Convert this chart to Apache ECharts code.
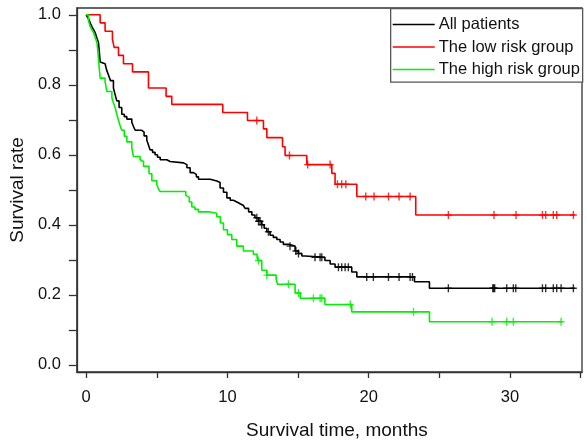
<!DOCTYPE html>
<html>
<head>
<meta charset="utf-8">
<script src="https://cdn.jsdelivr.net/npm/echarts@6/dist/echarts.min.js"></script>
<style>html,body{margin:0;padding:0;background:#fff}#c{width:587px;height:445px}</style>
</head>
<body>
<div id="c"></div>
<script>
// ---- Data ----
const seriesNames = ['All patients', 'The low risk group', 'The high risk group'];
const xTickLabels = [0, 10, 20, 30];
const yTickLabels = [0, 0.2, 0.4, 0.6, 0.8, 1.0];

// All patients: event times (months) and survival after each event
const allTimes = [0,0.10,0.20,0.30,0.40,0.52,0.64,0.75,0.87,0.93,0.99,1.10,1.34,1.45,1.58,1.72,1.93,2.05,2.17,2.33,2.52,2.70,2.88,3.23,3.35,3.47,3.94,4.10,4.29,4.41,4.53,4.70,4.88,5.05,5.24,5.71,5.94,6.89,7.13,7.36,7.59,7.80,7.95,8.78,9.25,9.48,9.72,9.96,10.20,10.42,10.67,10.90,11.13,11.25,11.50,11.73,11.95,12.20,12.43,12.60,12.79,13.02,13.25,13.50,13.73,13.96,14.32,14.79,15.02,15.27,15.50,16.90,17.27,17.62,18.80,19.16,23.24,24.30];
const allSurv  = [1.0,0.993,0.986,0.976,0.967,0.958,0.949,0.935,0.921,0.895,0.865,0.860,0.856,0.842,0.828,0.812,0.791,0.772,0.754,0.735,0.716,0.709,0.702,0.693,0.681,0.670,0.665,0.654,0.642,0.628,0.614,0.607,0.600,0.593,0.586,0.581,0.577,0.572,0.563,0.549,0.544,0.537,0.530,0.525,0.521,0.505,0.493,0.477,0.470,0.465,0.460,0.455,0.451,0.447,0.437,0.428,0.420,0.410,0.400,0.390,0.380,0.370,0.364,0.358,0.351,0.344,0.339,0.325,0.318,0.311,0.307,0.298,0.288,0.279,0.265,0.251,0.237,0.2185];
const allEnd = 34.6;
const allCensor = [12.08,12.20,12.31,12.43,12.90,14.43,14.85,15.03,16.20,16.56,16.68,17.86,18.09,18.33,18.56,19.86,20.33,21.40,22.15,22.93,23.10,25.64,28.78,28.85,28.92,29.77,30.24,30.41,32.30,32.53,33.07,33.31,33.62,34.49];

// Low risk group
const lowTimes = [0,0.99,1.34,1.86,1.98,2.29,2.64,3.28,4.41,5.66,6.06,9.67,11.42,12.55,12.79,13.90,14.08,15.62,17.39,17.62,19.16,23.33];
const lowSurv  = [1.0,0.977,0.953,0.930,0.907,0.884,0.860,0.837,0.791,0.767,0.744,0.721,0.698,0.674,0.649,0.623,0.598,0.572,0.547,0.516,0.481,0.428];
const lowEnd = 34.6;
const lowCensor = [12.08,14.39,15.68,17.27,17.79,18.09,18.38,19.79,20.38,21.40,22.15,22.93,25.64,28.87,30.43,32.30,32.53,33.07,33.31,34.49];

// High risk group
const highTimes = [0,0.15,0.28,0.40,0.52,0.64,0.76,0.82,0.87,0.93,0.99,1.34,1.46,1.82,1.93,2.05,2.17,2.29,2.40,2.52,2.70,2.88,3.23,3.35,3.82,3.94,4.06,4.45,4.65,5.00,5.12,5.24,7.05,7.13,7.30,7.48,7.70,7.95,8.66,9.25,9.50,9.72,10.00,10.31,10.66,11.13,11.84,12.10,12.20,12.43,12.79,13.45,13.55,14.79,15.15,16.90,18.80,24.30];
const highSurv  = [1.0,0.985,0.967,0.958,0.949,0.935,0.921,0.898,0.874,0.846,0.819,0.809,0.781,0.763,0.749,0.735,0.716,0.698,0.684,0.670,0.653,0.637,0.619,0.595,0.586,0.581,0.567,0.546,0.526,0.515,0.502,0.495,0.484,0.479,0.465,0.451,0.444,0.437,0.433,0.423,0.405,0.386,0.372,0.358,0.339,0.325,0.316,0.305,0.298,0.270,0.256,0.244,0.230,0.205,0.190,0.172,0.151,0.123];
const highEnd = 33.7;
const highCensor = [12.20,12.79,14.32,15.03,16.09,16.56,16.68,18.70,23.17,28.73,29.77,30.24,33.62];

// ---- helpers ----
function stepData(times, surv, tEnd) {
  const d = times.map((t, i) => [t, surv[i]]);
  d.push([tEnd, surv[surv.length - 1]]);
  return d;
}
function censorData(times, surv, cens) {
  return cens.map(c => {
    let v = surv[0];
    for (let i = 0; i < times.length; i++) { if (times[i] <= c) v = surv[i]; }
    return [c, v];
  });
}
const crossPath = 'path://M-0.7,-4L0.7,-4L0.7,-0.7L3.5,-0.7L3.5,0.7L0.7,0.7L0.7,4L-0.7,4L-0.7,0.7L-3.5,0.7L-3.5,-0.7L-0.7,-0.7Z';
const FONT = 'Liberation Sans, Arial, Helvetica, sans-serif';
const colors = ['#000000', '#ff0000', '#00f000'];

function kmSeries(name, color, times, surv, tEnd, cens) {
  return [
    { name: name, type: 'line', step: 'end', data: stepData(times, surv, tEnd),
      showSymbol: false, symbol: 'none', lineStyle: { color: color, width: 1.6 }, itemStyle: { color: color } },
    { name: name + ' censored', type: 'scatter', data: censorData(times, surv, cens),
      symbol: crossPath, symbolSize: [7, 8], itemStyle: { color: color }, silent: true }
  ];
}

const chart = echarts.init(document.getElementById('c'), null, { renderer: 'canvas' });
const axisCol = '#333333';
chart.setOption({
  animation: false,
  backgroundColor: '#ffffff',
  textStyle: { fontFamily: FONT },
  grid: { left: 76.7, right: 5, top: 8, bottom: 64.3, show: true, borderColor: axisCol, borderWidth: 1.3, containLabel: false },
  xAxis: {
    type: 'value', min: -0.66, max: 35.1,
    name: 'Survival time, months', nameLocation: 'middle', nameGap: 49,
    nameTextStyle: { fontSize: 19, color: '#111', fontFamily: FONT, padding: [0, 0, 0, 15] },
    axisLine: { show: true, onZero: false, lineStyle: { color: axisCol, width: 1.3 } },
    axisTick: { show: true, inside: false, length: 6, lineStyle: { color: axisCol, width: 1.3 }, customValues: [0, 5, 10, 15, 20, 25, 30, 35] },
    axisLabel: { fontSize: 16.5, color: '#111', fontFamily: FONT, margin: 17, customValues: xTickLabels, formatter: v => String(v) },
    splitLine: { show: false }
  },
  yAxis: {
    type: 'value', min: -0.0207, max: 1.0195,
    name: 'Survival rate', nameLocation: 'middle', nameGap: 49, nameRotate: 90,
    nameTextStyle: { fontSize: 19, color: '#111', fontFamily: FONT },
    axisLine: { show: true, onZero: false, lineStyle: { color: axisCol, width: 1.3 } },
    axisTick: { show: true, inside: false, length: 8, lineStyle: { color: axisCol, width: 1.3 }, customValues: [0, 0.1, 0.2, 0.3, 0.4, 0.5, 0.6, 0.7, 0.8, 0.9, 1.0] },
    axisLabel: { fontSize: 16.5, color: '#111', fontFamily: FONT, margin: 16, customValues: yTickLabels, formatter: v => v.toFixed(1) },
    splitLine: { show: false }
  },
  legend: {
    data: seriesNames, orient: 'vertical', left: 390, top: 8,
    padding: [8, 2, 5, 2.7], itemGap: 5.5, itemWidth: 42, itemHeight: 14,
    icon: 'path://M0,0L42,0L42,1.5L0,1.5Z',
    textStyle: { fontSize: 16.5, color: '#111', fontFamily: FONT, padding: [0, 0, 0, -1] },
    selectedMode: false
  },
  graphic: [{
    type: 'rect', left: 390, top: 8, z: 0,
    shape: { width: 192, height: 73.5 },
    style: { fill: '#ffffff', stroke: '#555555', lineWidth: 1.3 }
  }],
  series: [].concat(
    kmSeries(seriesNames[0], colors[0], allTimes, allSurv, allEnd, allCensor),
    kmSeries(seriesNames[1], colors[1], lowTimes, lowSurv, lowEnd, lowCensor),
    kmSeries(seriesNames[2], colors[2], highTimes, highSurv, highEnd, highCensor)
  )
});
</script>
</body>
</html>
